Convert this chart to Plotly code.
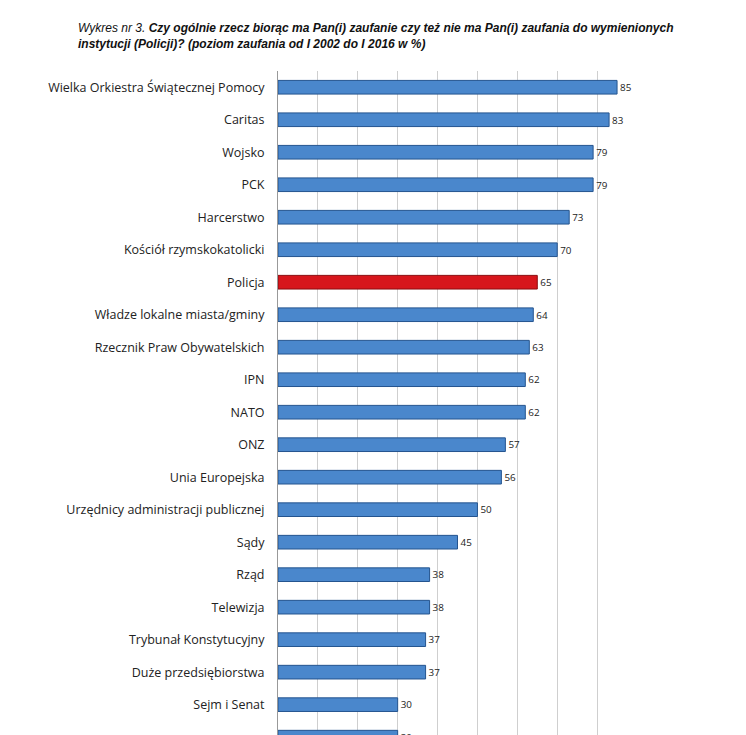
import plotly.graph_objects as go

instytucje = ["Wielka Orkiestra Świątecznej Pomocy", "Caritas", "Wojsko", "PCK", "Harcerstwo",
              "Kościół rzymskokatolicki", "Policja", "Władze lokalne miasta/gminy",
              "Rzecznik Praw Obywatelskich", "IPN", "NATO", "ONZ", "Unia Europejska",
              "Urzędnicy administracji publicznej", "Sądy", "Rząd", "Telewizja",
              "Trybunał Konstytucyjny", "Duże przedsiębiorstwa", "Sejm i Senat", "Gazety"]
zaufanie = [85, 83, 79, 79, 73, 70, 65, 64, 63, 62, 62, 57, 56, 50, 45, 38, 38, 37, 37, 30, 30]

# od dołu do góry
cats = instytucje[::-1]
vals = zaufanie[::-1]
kolory = ["#d7161c" if c == "Policja" else "#4a87cc" for c in cats]
obrys = ["#8a0c0f" if c == "Policja" else "#24548f" for c in cats]

fig = go.Figure(go.Bar(
    x=vals, y=list(range(len(cats))), orientation="h",
    marker=dict(color=kolory, line=dict(color=obrys, width=1)),
    width=0.42, text=vals, textposition="outside",
    textfont=dict(size=13, color="#222", family="Open Sans"),
    cliponaxis=False,
))

fig.update_layout(
    width=746, height=735, plot_bgcolor="white", paper_bgcolor="white",
    margin=dict(l=270, r=117, t=63, b=0), showlegend=False,
    font=dict(family="Open Sans", size=12.5, color="#222"),
    xaxis=dict(range=[0, 90], dtick=10, showgrid=True, gridcolor="#cfcfcf",
               showticklabels=False, zeroline=False, showline=False, automargin=False),
    yaxis=dict(range=[-0.18, 20.5], tickmode="array", tickvals=list(range(len(cats))),
               ticktext=cats, showline=True, linecolor="#999", ticks="outside",
               ticklen=0, ticklabelstandoff=10, showgrid=False, automargin=False),
)
fig.add_annotation(
    x=-0.563, y=1.078, xref="paper", yref="paper", xanchor="left", yanchor="top",
    align="left", showarrow=False,
    font=dict(family="Liberation Sans", size=12, color="#111"),
    text="<i>Wykres nr 3. <b>Czy ogólnie rzecz biorąc ma Pan(i) zaufanie czy też nie ma Pan(i) zaufania do wymienionych</b></i><br>"
         "<i><b>instytucji (Policji)? (poziom zaufania od I 2002 do I 2016 w %)</b></i>",
)
fig.write_html("out.html")
